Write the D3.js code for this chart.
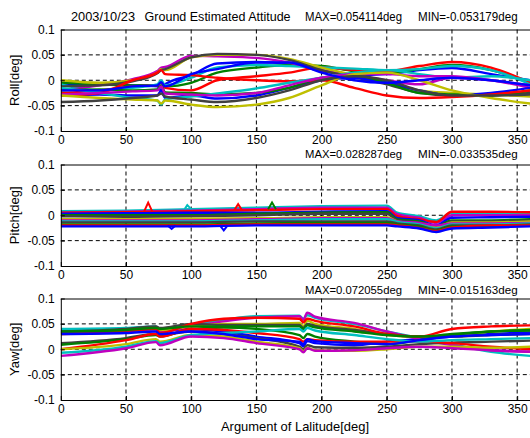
<!DOCTYPE html>
<html><head><meta charset="utf-8">
<script src="https://cdn.jsdelivr.net/npm/d3@7"></script>
<style>
html,body{margin:0;padding:0;background:#fff;}
svg{display:block;}
text{font-family:"Liberation Sans",Arial,sans-serif;fill:#000;}
</style></head>
<body>
<svg id="chart" width="530" height="438"></svg>
<script>
// ---------- data ----------
const xTicks = [0, 50, 100, 150, 200, 250, 300, 350];
const yTicks = [0.1, 0.05, 0, -0.05, -0.1];
const yTickLabels = ["0.1", "0.05", "0", "-0.05", "-0.1"];
const palette = {b:"#0000ff", g:"#008000", r:"#ff0000", c:"#00bfbf", m:"#bf00bf", y:"#bfbf00", k:"#404040"};

const titleParts = ["2003/10/23", "Ground Estimated Attitude", "MAX=0.054114deg", "MIN=-0.053179deg"];
const pitchHeader = ["MAX=0.028287deg", "MIN=-0.033535deg"];
const yawHeader = ["MAX=0.072055deg", "MIN=-0.015163deg"];
const yLabels = ["Roll[deg]", "Pitch[deg]", "Yaw[deg]"];
const xLabel = "Argument of Lalitude[deg]";

// Roll
const rollX = [0, 30, 55, 74, 77, 80, 100, 120, 150, 175, 200, 225, 250, 275, 300, 330, 360];
const rollColors = ["b","g","r","c","m","y","k","b","g","r","c","m","y","k","b"];
const rollSeries = [
  [-0.010,-0.008,-0.010,-0.012,-0.020,-0.008, 0.010, 0.033, 0.036, 0.033, 0.018, 0.010, 0.012, 0.020, 0.024, 0.012, 0.000],
  [-0.005,-0.008,-0.010,-0.010,-0.004,-0.012,-0.005, 0.015, 0.025, 0.030, 0.028, 0.018, 0.015, 0.022, 0.030, 0.020,-0.005],
  [-0.025,-0.020,-0.012,-0.010,-0.005,-0.015,-0.020, 0.000, 0.008, 0.015, 0.025, 0.020, 0.018, 0.028, 0.036, 0.025,-0.005],
  [-0.008,-0.020,-0.015,-0.008, 0.000,-0.010, 0.005, 0.025, 0.030, 0.028, 0.025, 0.023, 0.020, 0.022, 0.028, 0.020,-0.008],
  [-0.020,-0.010, 0.002, 0.018, 0.025, 0.026, 0.048, 0.047, 0.044, 0.035, 0.020, 0.010, 0.000,-0.008, 0.005, 0.000,-0.015],
  [ 0.000,-0.005, 0.000, 0.015, 0.022, 0.020, 0.045, 0.050, 0.050, 0.042, 0.025, 0.010,-0.005,-0.020,-0.025,-0.028,-0.032],
  [-0.012,-0.010,-0.002, 0.014, 0.020, 0.022, 0.045, 0.052, 0.050, 0.040, 0.020, 0.006,-0.008,-0.025,-0.030,-0.030,-0.025],
  [-0.030,-0.028,-0.030,-0.030,-0.020,-0.035,-0.030,-0.036,-0.030,-0.015, 0.000, 0.005,-0.005,-0.020,-0.030,-0.025,-0.015],
  [-0.020,-0.018,-0.020,-0.018,-0.010,-0.024,-0.025,-0.028,-0.025,-0.015, 0.005, 0.010,-0.005,-0.025,-0.028,-0.030,-0.020],
  [-0.030,-0.025, 0.000, 0.015, 0.020, 0.012, 0.010, 0.005, 0.000,-0.002, 0.000,-0.015,-0.030,-0.035,-0.033,-0.028,-0.020],
  [-0.015,-0.025,-0.035,-0.040,-0.048,-0.038,-0.032,-0.026,-0.016,-0.005, 0.005, 0.015, 0.020, 0.012, 0.005, 0.008, 0.000],
  [-0.028,-0.025,-0.022,-0.020,-0.012,-0.026,-0.028,-0.030,-0.025,-0.010, 0.005, 0.012, 0.012, 0.008, 0.008, 0.000,-0.010],
  [-0.030,-0.035,-0.038,-0.040,-0.046,-0.040,-0.048,-0.053,-0.048,-0.035,-0.010, 0.012, 0.015, 0.000,-0.020,-0.035,-0.046],
  [-0.043,-0.040,-0.035,-0.030,-0.026,-0.032,-0.038,-0.043,-0.035,-0.020, 0.000, 0.008, 0.000,-0.020,-0.030,-0.030,-0.028],
  [-0.020,-0.020,-0.012,-0.010,-0.004,-0.012, 0.012, 0.022, 0.035, 0.035, 0.015, 0.000,-0.005, 0.000, 0.005, 0.000,-0.010]
];

// Pitch
const pitchX = [0, 50, 100, 150, 200, 250, 258, 275, 288, 300, 330, 360];
const pitchColors = ["c","m","r","b","g","k","y","m","c","k","g","r","b"];
const pitchSeries = [
  [ 0.008, 0.009, 0.012, 0.015, 0.018, 0.019, 0.005,-0.002,-0.010, 0.005, 0.005, 0.005],
  [ 0.005, 0.007, 0.009, 0.012, 0.015, 0.015, 0.002,-0.005,-0.015, 0.000, 0.000, 0.000],
  [ 0.005, 0.006, 0.008, 0.010, 0.012, 0.012,-0.002,-0.008,-0.013, 0.007, 0.007, 0.006],
  [ 0.003, 0.004, 0.005, 0.005, 0.007, 0.008,-0.006,-0.010,-0.020,-0.005,-0.004,-0.003],
  [ 0.000, 0.000, 0.000, 0.003, 0.005, 0.006,-0.008,-0.012,-0.022,-0.010,-0.010,-0.008],
  [-0.002,-0.003,-0.002, 0.000, 0.003, 0.003,-0.010,-0.014,-0.025,-0.012,-0.012,-0.010],
  [-0.008,-0.008,-0.007,-0.006,-0.004,-0.004,-0.012,-0.017,-0.024,-0.014,-0.014,-0.012],
  [-0.010,-0.010,-0.010,-0.008,-0.006,-0.006,-0.012,-0.015,-0.020,-0.016,-0.016,-0.015],
  [-0.012,-0.012,-0.012,-0.010,-0.008,-0.008,-0.013,-0.018,-0.026,-0.018,-0.018,-0.016],
  [-0.014,-0.014,-0.014,-0.012,-0.012,-0.012,-0.016,-0.020,-0.028,-0.020,-0.020,-0.018],
  [-0.018,-0.018,-0.018,-0.016,-0.015,-0.015,-0.018,-0.022,-0.030,-0.022,-0.022,-0.020],
  [-0.020,-0.020,-0.020,-0.018,-0.018,-0.018,-0.020,-0.025,-0.031,-0.024,-0.020,-0.020],
  [-0.022,-0.022,-0.022,-0.020,-0.020,-0.020,-0.022,-0.026,-0.033,-0.026,-0.024,-0.022]
];
const pitchSpikeColors = ["r","c","r","g","b","b"];
const pitchSpikeX = [[64,67,70],[95,97,100],[133,136,139],[159,162,165],[122,125,128],[82,85,88]];
const pitchSpikeY = [[0.008,0.025,0.008],[0.012,0.020,0.012],[0.010,0.022,0.010],[0.012,0.025,0.012],[-0.020,-0.030,-0.020],[-0.020,-0.027,-0.020]];

// Yaw
const yawX = [0, 50, 73, 76, 100, 125, 150, 183, 186, 189, 195, 225, 250, 275, 300, 330, 360];
const yawColors = ["c","b","m","y","k","r","g","k","g","r","y","c","m","b"];
const yawSeries = [
  [ 0.040, 0.042, 0.045, 0.040, 0.048, 0.058, 0.065, 0.066, 0.060, 0.067, 0.062, 0.050, 0.035, 0.022, 0.010,-0.005,-0.013],
  [ 0.035, 0.037, 0.040, 0.036, 0.040, 0.035, 0.025, 0.012, 0.006, 0.016, 0.012, 0.008, 0.015, 0.020, 0.025, 0.030, 0.033],
  [ 0.033, 0.036, 0.040, 0.035, 0.045, 0.055, 0.062, 0.065, 0.058, 0.072, 0.064, 0.052, 0.035, 0.020, 0.008,-0.002,-0.005],
  [ 0.030, 0.035, 0.042, 0.038, 0.045, 0.050, 0.050, 0.052, 0.045, 0.056, 0.050, 0.040, 0.028, 0.025, 0.028, 0.035, 0.040],
  [ 0.035, 0.040, 0.045, 0.042, 0.050, 0.048, 0.048, 0.048, 0.042, 0.050, 0.046, 0.038, 0.030, 0.025, 0.025, 0.028, 0.030],
  [ 0.030, 0.035, 0.040, 0.032, 0.050, 0.060, 0.062, 0.060, 0.053, 0.060, 0.056, 0.045, 0.030, 0.025, 0.040, 0.045, 0.047],
  [ 0.035, 0.038, 0.042, 0.040, 0.045, 0.045, 0.045, 0.045, 0.040, 0.047, 0.043, 0.035, 0.028, 0.025, 0.030, 0.035, 0.038],
  [ 0.012, 0.022, 0.030, 0.028, 0.035, 0.030, 0.022, 0.005, 0.000, 0.008, 0.004, 0.003, 0.005, 0.010, 0.013, 0.015, 0.017],
  [ 0.009, 0.020, 0.028, 0.025, 0.040, 0.043, 0.040, 0.028, 0.022, 0.030, 0.025, 0.015, 0.010, 0.018, 0.028, 0.035, 0.037],
  [ 0.000, 0.018, 0.030, 0.025, 0.040, 0.038, 0.032, 0.020, 0.015, 0.020, 0.018, 0.015, 0.015, 0.015, 0.012, 0.005, 0.000],
  [ 0.000, 0.010, 0.020, 0.015, 0.028, 0.025, 0.015, 0.002,-0.004, 0.003,-0.002,-0.003, 0.000, 0.005, 0.005, 0.003, 0.005],
  [-0.007, 0.005, 0.016, 0.012, 0.028, 0.032, 0.035, 0.040, 0.035, 0.042, 0.037, 0.028, 0.020, 0.015, 0.018, 0.020, 0.022],
  [-0.013, 0.002, 0.014, 0.008, 0.025, 0.022, 0.012, 0.000,-0.006, 0.002,-0.003,-0.002, 0.002, 0.005, 0.002,-0.002,-0.005],
  [ 0.030, 0.032, 0.035, 0.030, 0.035, 0.030, 0.020, 0.015, 0.010, 0.020, 0.016, 0.012, 0.010, 0.018, 0.025, 0.028, 0.030]
];

// ---------- drawing ----------
const svg = d3.select("#chart");
const plotLeft = 60.8, plotRight = 530.2, panelH = 101.5;
const panelTops = [29.5, 164.5, 298.5];
const x = d3.scaleLinear().domain([0, 360]).range([plotLeft, plotRight]);

const panels = [
  {xs: rollX, series: rollSeries, colors: rollColors},
  {xs: pitchX, series: pitchSeries, colors: pitchColors},
  {xs: yawX, series: yawSeries, colors: yawColors}
];

panels.forEach((p, i) => {
  const top = panelTops[i];
  const y = d3.scaleLinear().domain([-0.1, 0.1]).range([top + panelH, top]);
  const g = svg.append("g");
  const clipId = "clip" + i;
  svg.append("clipPath").attr("id", clipId).append("rect")
    .attr("x", plotLeft).attr("y", top).attr("width", plotRight - plotLeft).attr("height", panelH);

  // grid
  g.append("g").selectAll("line").data(xTicks.filter(t => t > 0)).join("line")
    .attr("x1", d => x(d)).attr("x2", d => x(d)).attr("y1", top).attr("y2", top + panelH)
    .attr("stroke", "#000").attr("stroke-width", 1).attr("stroke-dasharray", "4,3");
  g.append("g").selectAll("line").data(yTicks.filter(t => Math.abs(t) < 0.09)).join("line")
    .attr("x1", plotLeft).attr("x2", plotRight).attr("y1", d => y(d)).attr("y2", d => y(d))
    .attr("stroke", "#000").attr("stroke-width", 1).attr("stroke-dasharray", "4,3");

  // lines
  const line = d3.line().curve(d3.curveMonotoneX);
  const lg = g.append("g").attr("clip-path", `url(#${clipId})`);
  p.series.forEach((s, k) => {
    lg.append("path")
      .attr("d", line(s.map((v, j) => [x(p.xs[j]), y(v)])))
      .attr("fill", "none").attr("stroke", palette[p.colors[k]])
      .attr("stroke-width", 2.4).attr("stroke-linejoin", "round");
  });
  if (i === 1) {
    pitchSpikeX.forEach((sx, k) => {
      lg.append("path")
        .attr("d", d3.line()(sx.map((v, j) => [x(v), y(pitchSpikeY[k][j])])))
        .attr("fill", "none").attr("stroke", palette[pitchSpikeColors[k]]).attr("stroke-width", 2);
    });
  }

  // axes
  const ax = d3.axisBottom(x).tickValues(xTicks).tickSizeInner(-4).tickSizeOuter(0).tickPadding(4).tickFormat(d3.format("d"));
  const axg = g.append("g").attr("transform", `translate(0,${top + panelH})`).call(ax);
  axg.selectAll("text").attr("font-size", 12).attr("font-family", "Liberation Sans, Arial, sans-serif").attr("fill", "#000");
  axg.selectAll("line,path").attr("stroke", "#000");
  const ay = d3.axisLeft(y).tickValues(yTicks).tickSizeInner(-4).tickSizeOuter(0).tickPadding(6)
    .tickFormat((d, j) => yTickLabels[j]);
  const ayg = g.append("g").attr("transform", `translate(${plotLeft},0)`).call(ay);
  ayg.selectAll("text").attr("font-size", 12).attr("font-family", "Liberation Sans, Arial, sans-serif").attr("fill", "#000");
  ayg.selectAll("line,path").attr("stroke", "#000");
  g.append("line").attr("x1", plotLeft).attr("x2", plotRight).attr("y1", top + 0.5).attr("y2", top + 0.5).attr("stroke", "#000");

  // y label
  g.append("text").attr("transform", `translate(19,${top + panelH / 2}) rotate(-90)`)
    .attr("text-anchor", "middle").attr("font-size", 13).text(yLabels[i]);
});

// texts
const tx = [71, 144.6, 305, 418];
const tw = [64, 146, 97, 99.6];
titleParts.forEach((t, i) => svg.append("text").attr("x", tx[i]).attr("y", 21).attr("font-size", 12)
  .attr("textLength", tw[i]).attr("lengthAdjust", "spacingAndGlyphs").text(t));
pitchHeader.forEach((t, i) => svg.append("text").attr("x", tx[i + 2]).attr("y", 157.5).attr("font-size", 11.5)
  .attr("textLength", tw[i + 2]).attr("lengthAdjust", "spacingAndGlyphs").text(t));
yawHeader.forEach((t, i) => svg.append("text").attr("x", tx[i + 2]).attr("y", 293.5).attr("font-size", 11.5)
  .attr("textLength", tw[i + 2]).attr("lengthAdjust", "spacingAndGlyphs").text(t));
svg.append("text").attr("x", 295).attr("y", 431).attr("text-anchor", "middle").attr("font-size", 13)
  .attr("textLength", 148).attr("lengthAdjust", "spacingAndGlyphs").text(xLabel);
</script>
</body></html>
